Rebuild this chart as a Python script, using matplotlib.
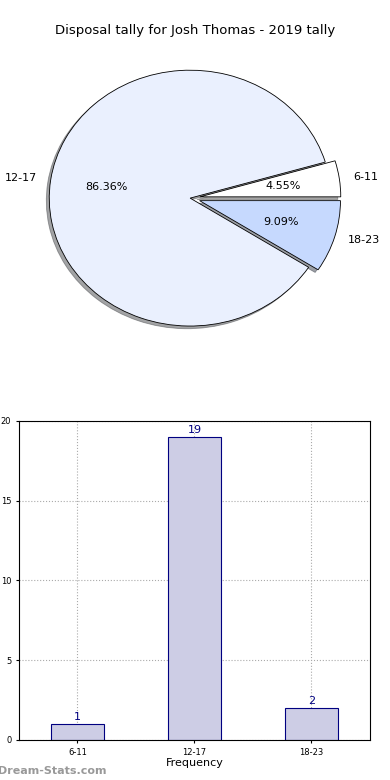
import matplotlib
matplotlib.use("Agg")
import matplotlib.pyplot as plt

categories = ["6-11", "12-17", "18-23"]
counts = [1, 19, 2]
explode_amt = [0.07, 0.0, 0.07]
pie_colors = ["#ffffff", "#eaf0fe", "#c6d9fe"]
title = "Disposal tally for Josh Thomas - 2019 tally"

fig = plt.figure(figsize=(3.9, 7.8), dpi=100)

# Pie chart
ax1 = fig.add_axes([0.036, 0.541, 0.903, 0.410])
wedges, texts, autotexts = ax1.pie(
    counts, labels=categories, explode=explode_amt, colors=pie_colors,
    autopct="%1.2f%%", shadow={"ox": -0.015, "oy": -0.015}, startangle=0,
    wedgeprops=dict(edgecolor="black", linewidth=0.6),
    textprops=dict(fontsize=8),
)
ax1.set_xlim(-1.25, 1.25)
ax1.set_ylim(-1.25, 1.25)
ax1.set_aspect("auto")
ax1.axis("off")
fig.text(0.5, 0.961, title, ha="center", va="center", fontsize=9.5)

# Bar chart
ax2 = fig.add_axes([0.0487, 0.0513, 0.90, 0.409])
x = list(range(len(categories)))
ax2.bar(x, counts, width=0.45, color="#cdcde5", edgecolor="#000080", linewidth=0.8, zorder=2)
for xi, c in zip(x, counts):
    ax2.text(xi, c + 0.15, str(c), ha="center", va="bottom", fontsize=8, color="#000080")
ax2.set_xlim(-0.5, 2.5)
ax2.set_ylim(0, 20)
ax2.set_xticks(x)
ax2.set_xticklabels(categories)
ax2.set_yticks([0, 5, 10, 15, 20])
ax2.tick_params(labelsize=6, length=2)
ax2.grid(True, linestyle=":", color="#aaaaaa", linewidth=0.8, zorder=0)
ax2.set_axisbelow(True)
ax2.set_xlabel("Frequency", fontsize=8, labelpad=1)
ax2.set_ylabel("Disposal Tally", fontsize=7.5, labelpad=2)
ax2.yaxis.set_label_coords(-0.06, 0.5)

fig.text(-0.005, 0.011, "Dream-Stats.com", fontsize=8, color="#999999",
         fontweight="bold", ha="left", va="center")

fig.savefig("out.png", dpi=100)
